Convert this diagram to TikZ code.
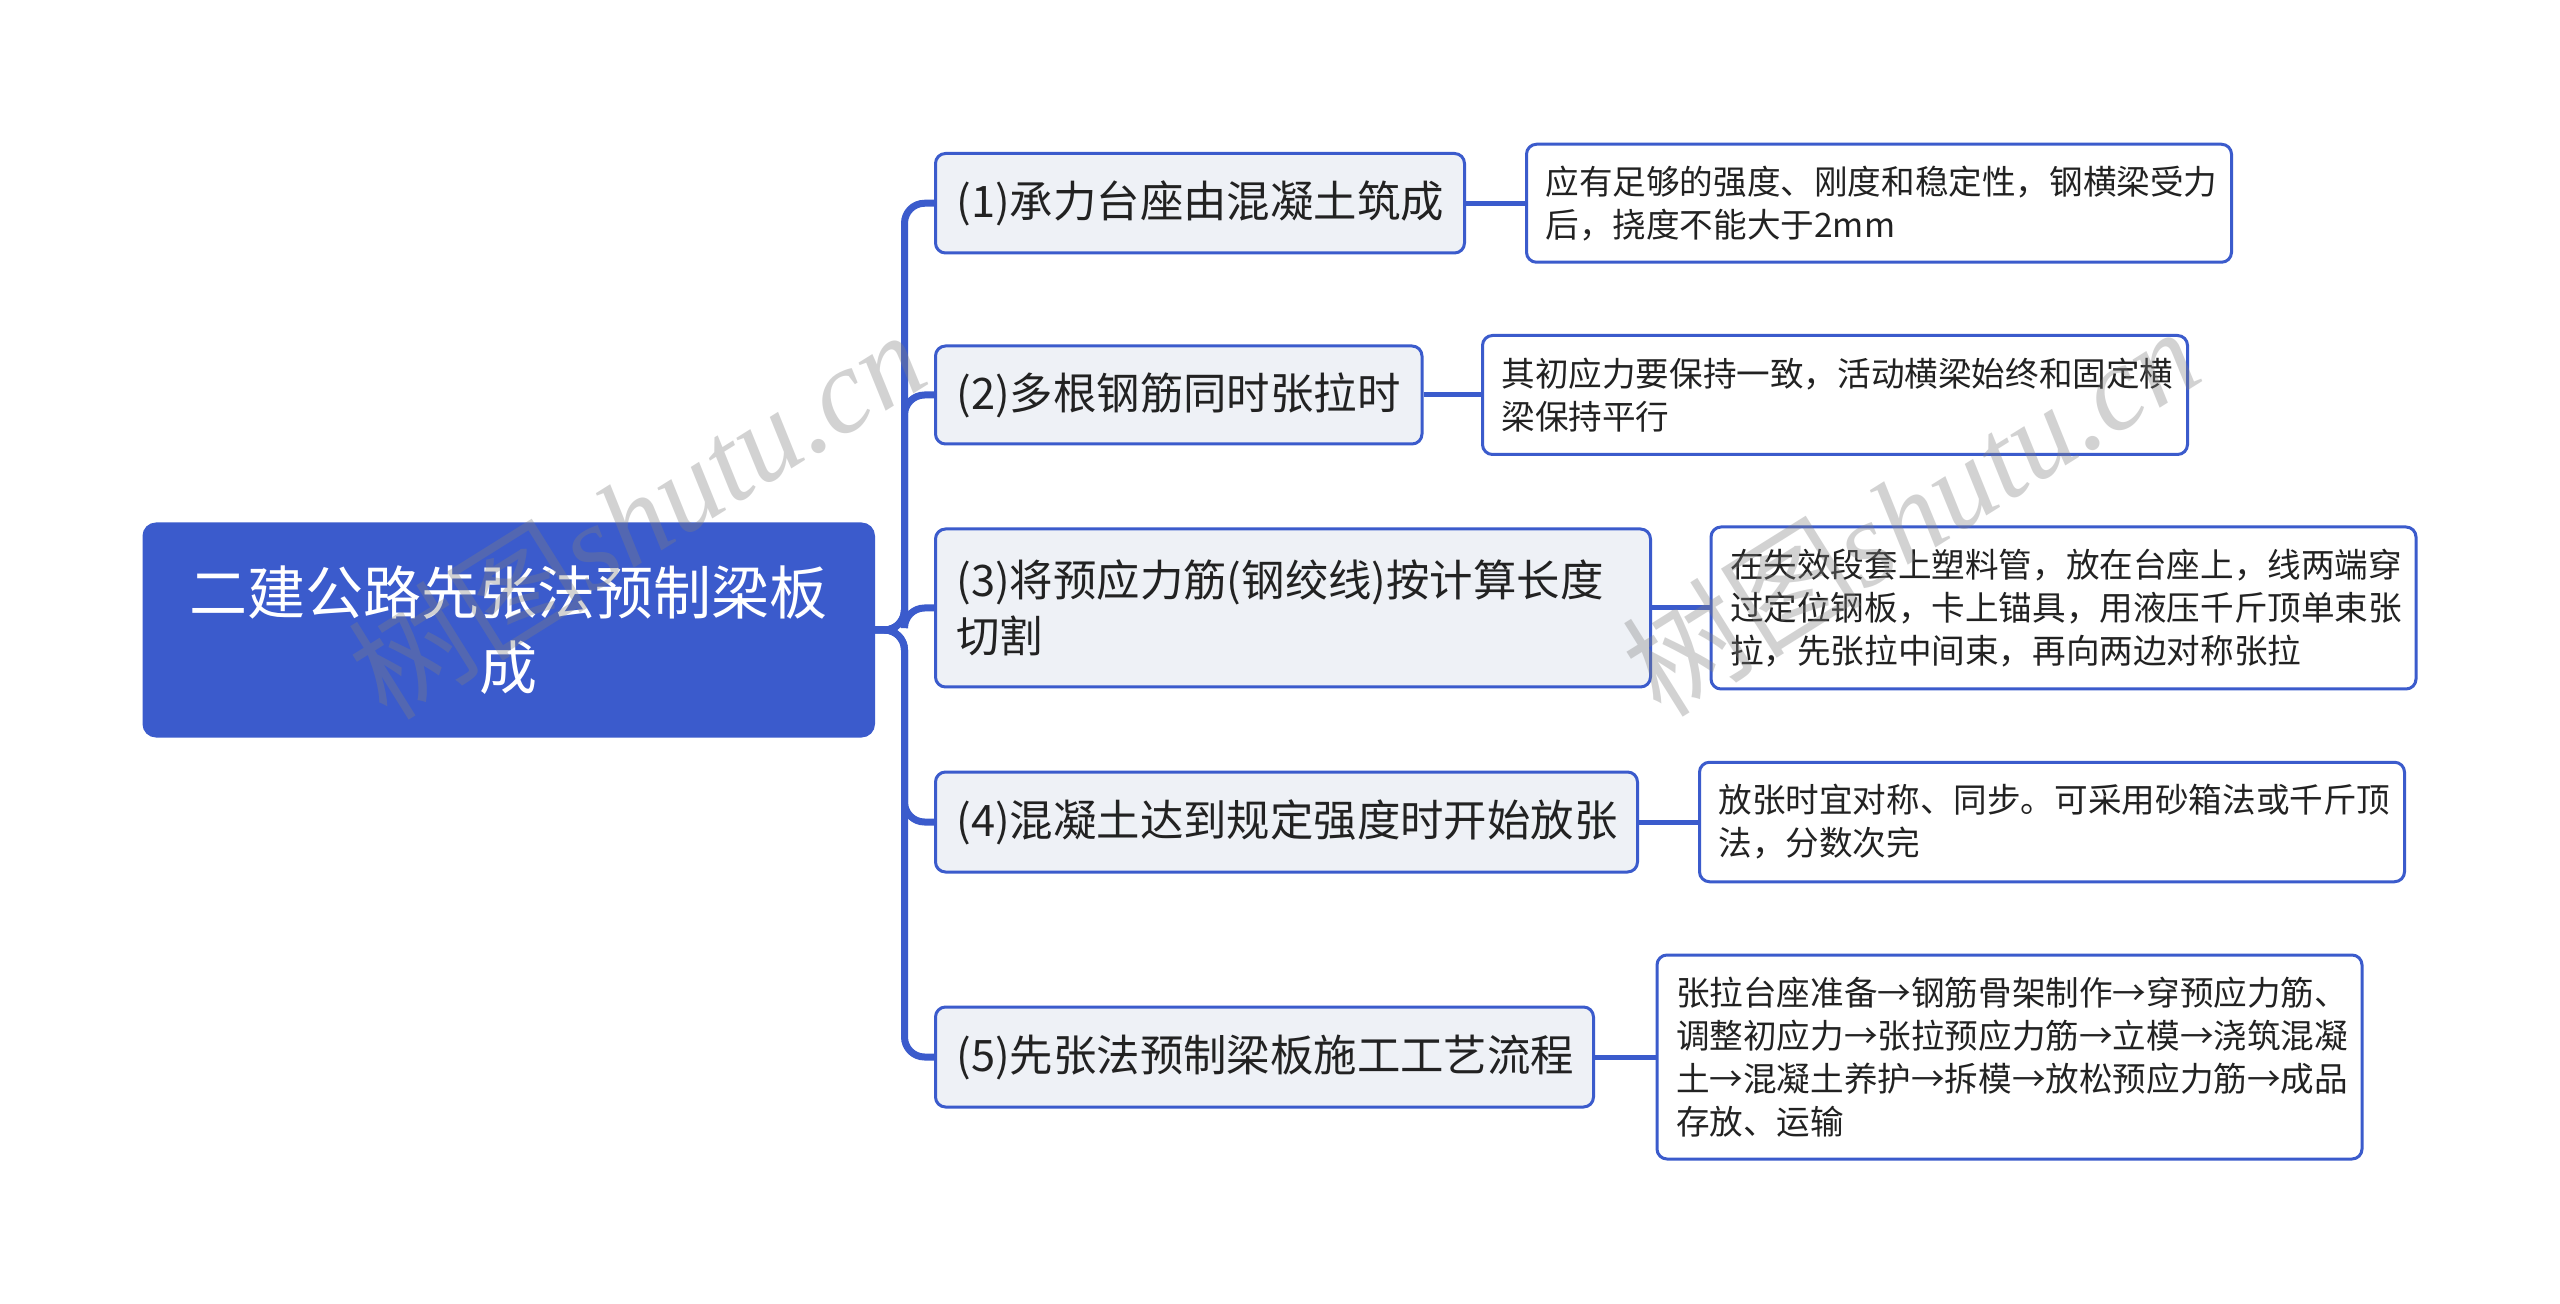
\documentclass[tikz,border=0pt]{standalone}
\usepackage{fontspec}
\setmainfont{Noto Sans CJK SC}
\newfontfamily\wmlatin{Liberation Serif}
\definecolor{mainblue}{RGB}{59,91,204}
\definecolor{brfill}{RGB}{238,241,246}
\definecolor{txt}{RGB}{34,34,34}
\begin{document}
\begin{tikzpicture}[x=0.5pt,y=-0.5pt,
  rootbox/.style={draw=mainblue, fill=mainblue, line width=1.5pt, rounded corners=6pt,
    minimum width=364.75pt, minimum height=106pt, text=white, align=center,
    font=\fontsize{29}{37.7}\selectfont},
  brbox/.style={draw=mainblue, fill=brfill, line width=1.5pt, rounded corners=5pt,
    anchor=west, inner xsep=10.5pt, inner ysep=0pt, align=left, text=txt,
    font=\fontsize{21.7}{28}\selectfont},
  leafbox/.style={draw=mainblue, fill=white, line width=1.5pt, rounded corners=5pt,
    anchor=west, inner xsep=9.5pt, inner ysep=0pt, align=left, text=txt,
    minimum width=352.5pt, text width=333.5pt,
    font=\fontsize{16.8}{21.6}\selectfont},
  conn/.style={draw=mainblue, line width=3.5pt, rounded corners=10pt},
  leafconn/.style={draw=mainblue, line width=2.5pt},
  wm/.style={text=gray, opacity=0.35, rotate=32, font=\fontsize{60}{60}\selectfont}
]
\useasboundingbox[fill=white] (0,0) rectangle (2560,1304);

\node[rootbox] (r) at (508.75,630) {二建公路先张法预制梁板\\成};

\node[brbox, minimum width=264.5pt, text width=243.5pt, minimum height=49.75pt] (b1) at (934,203.25) {(1)承力台座由混凝土筑成};
\node[brbox, minimum width=243.25pt, text width=222.25pt, minimum height=49pt] (b2) at (934,395) {(2)多根钢筋同时张拉时};
\node[brbox, minimum width=357.5pt, text width=336.5pt, minimum height=79pt] (b3) at (934,608) {(3)将预应力筋(钢绞线)按计算长度\\切割};
\node[brbox, minimum width=351pt, text width=330pt, minimum height=50pt] (b4) at (934,822) {(4)混凝土达到规定强度时开始放张};
\node[brbox, minimum width=329pt, text width=308pt, minimum height=50pt] (b5) at (934,1057) {(5)先张法预制梁板施工工艺流程};

\node[leafbox, minimum height=59pt] (l1) at (1525,203.25) {应有足够的强度、刚度和稳定性，钢横梁受力\\后，挠度不能大于2mm};
\node[leafbox, minimum height=59.5pt] (l2) at (1481,395) {其初应力要保持一致，活动横梁始终和固定横\\梁保持平行};
\node[leafbox, minimum height=81pt] (l3) at (1709.5,608) {在失效段套上塑料管，放在台座上，线两端穿\\过定位钢板，卡上锚具，用液压千斤顶单束张\\拉，先张拉中间束，再向两边对称张拉};
\node[leafbox, minimum height=59.75pt] (l4) at (1698,822) {放张时宜对称、同步。可采用砂箱法或千斤顶\\法，分数次完};
\node[leafbox, minimum height=102pt] (l5) at (1655.5,1057) {张拉台座准备→钢筋骨架制作→穿预应力筋、\\调整初应力→张拉预应力筋→立模→浇筑混凝\\土→混凝土养护→拆模→放松预应力筋→成品\\存放、运输};

\foreach \b in {b1,b2,b3,b4,b5}{
  \draw[conn] (r.east) -- ++(29.5,0) |- (\b.west);
}
\draw[leafconn] (b1.east) -- (l1.west);
\draw[leafconn] (b2.east) -- (l2.west);
\draw[leafconn] (b3.east) -- (l3.west);
\draw[leafconn] (b4.east) -- (l4.west);
\draw[leafconn] (b5.east) -- (l5.west);

\node[wm] (w1) at (636,513) {树图{\wmlatin\itshape shutu.cn}};
\node[wm] (w2) at (1910,510) {树图{\wmlatin\itshape shutu.cn}};
\end{tikzpicture}
\end{document}
